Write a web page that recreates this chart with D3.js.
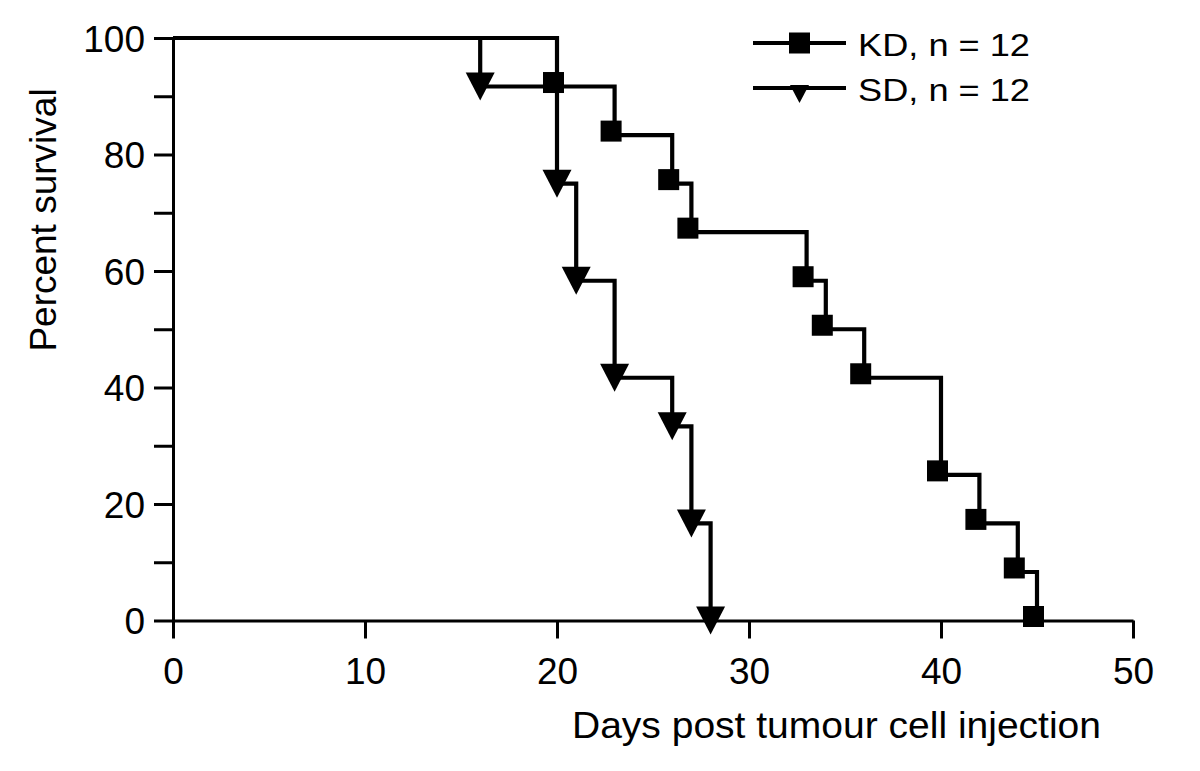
<!DOCTYPE html>
<html>
<head>
<meta charset="utf-8">
<script src="https://cdn.jsdelivr.net/npm/d3@7/dist/d3.min.js"></script>
<style>
  html, body { margin: 0; padding: 0; background: #fff; }
  svg { display: block; }
  text { font-family: "Liberation Sans", Arial, Helvetica, sans-serif; fill: #000; }
</style>
</head>
<body>
<svg id="chart" width="1200" height="771"></svg>
<script>
// ---- data ----
const kdDays = [0, 20, 23, 26, 27, 33, 34, 36, 40, 42, 44, 45];
const kdSurvival = [100, 91.67, 83.33, 75, 66.67, 58.33, 50, 41.67, 25, 16.67, 8.33, 0];
const sdDays = [0, 16, 20, 21, 23, 26, 27, 28];
const sdSurvival = [100, 91.67, 75, 58.33, 41.67, 33.33, 16.67, 0];
const seriesNames = ["KD, n = 12", "SD, n = 12"];
const xTicks = [0, 10, 20, 30, 40, 50];
const yTicks = [0, 10, 20, 30, 40, 50, 60, 70, 80, 90, 100];
const yLabelTicks = [0, 20, 40, 60, 80, 100];
const xTitle = "Days post tumour cell injection";
const yTitle = "Percent survival";

// ---- layout ----
const svg = d3.select("#chart");
const x = d3.scaleLinear().domain([0, 50]).range([173, 1133]);
const y = d3.scaleLinear().domain([0, 100]).range([620.5, 38]);

const axisW = 3;
const lineW = 4.2;

// Y axis
const yAxis = d3.axisLeft(y)
  .tickValues(yTicks)
  .tickSize(19)
  .tickSizeOuter(0)
  .tickPadding(9)
  .tickFormat(d => yLabelTicks.includes(d) ? d : "");
const gy = svg.append("g").attr("transform", `translate(${x(0)},0)`).call(yAxis);
gy.selectAll("path, line").attr("stroke", "#000").attr("stroke-width", axisW);
gy.selectAll("text").attr("font-size", 37).attr("dy", "0.36em")
  .style("font-family", '"Liberation Sans", Arial, sans-serif').attr("fill", "#000");

// X axis
const xAxis = d3.axisBottom(x)
  .tickValues(xTicks)
  .tickSize(18)
  .tickSizeOuter(0)
  .tickPadding(19)
  .tickFormat(d => d);
const gx = svg.append("g").attr("transform", `translate(0,${y(0)})`).call(xAxis);
gx.selectAll("path, line").attr("stroke", "#000").attr("stroke-width", axisW);
gx.selectAll("text").attr("font-size", 37)
  .style("font-family", '"Liberation Sans", Arial, sans-serif').attr("fill", "#000");

// Axis titles
svg.append("text")
  .attr("x", 572).attr("y", 738)
  .attr("font-size", 36)
  .attr("textLength", 529).attr("lengthAdjust", "spacingAndGlyphs")
  .text(xTitle);

svg.append("text")
  .attr("transform", "translate(56,220) rotate(-90)")
  .attr("text-anchor", "middle")
  .attr("font-size", 37)
  .text(yTitle);

// ---- curves ----
const kd = kdDays.map((d, i) => ({ x: d, y: kdSurvival[i] }));
const sd = sdDays.map((d, i) => ({ x: d, y: sdSurvival[i] }));

const line = d3.line().x(d => x(d.x)).y(d => y(d.y)).curve(d3.curveStepAfter);

[sd, kd].forEach(s => {
  svg.append("path")
    .attr("d", line(s))
    .attr("fill", "none")
    .attr("stroke", "#000")
    .attr("stroke-width", lineW)
    .attr("stroke-linejoin", "miter");
});

// markers
const sq = 21;
svg.append("g").selectAll("rect")
  .data(kd.slice(1))
  .join("rect")
  .attr("x", d => x(d.x) - sq / 2 - 3.5)
  .attr("y", d => y(d.y) - sq / 2 - 4)
  .attr("width", sq).attr("height", sq)
  .attr("fill", "#000");

const tri = "M-14.5,-14 L14.5,-14 L0,14 Z";
svg.append("g").selectAll("path")
  .data(sd.slice(1))
  .join("path")
  .attr("d", tri)
  .attr("transform", d => `translate(${x(d.x)},${y(d.y)})`)
  .attr("fill", "#000");

// ---- legend ----
const legY = [43, 88];
const leg = svg.append("g");
legY.forEach((ly, i) => {
  leg.append("line")
    .attr("x1", 753).attr("x2", 846)
    .attr("y1", ly).attr("y2", ly)
    .attr("stroke", "#000").attr("stroke-width", lineW);
  leg.append("text")
    .attr("x", 858).attr("y", ly + 13)
    .attr("font-size", 31)
    .attr("textLength", 172).attr("lengthAdjust", "spacingAndGlyphs")
    .text(seriesNames[i]);
});
leg.append("rect")
  .attr("x", 799.5 - 10.5).attr("y", legY[0] - 10.5)
  .attr("width", 21).attr("height", 21).attr("fill", "#000");
leg.append("path")
  .attr("d", "M-9.5,-3 L9.5,-3 L0,15 Z")
  .attr("transform", `translate(799.5,${legY[1]})`)
  .attr("fill", "#000");
</script>
</body>
</html>
